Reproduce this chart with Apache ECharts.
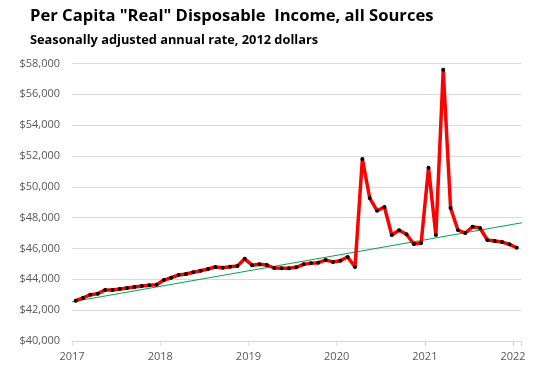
<!DOCTYPE html>
<html><head><meta charset="utf-8">
<script src="https://cdn.jsdelivr.net/npm/echarts@6/dist/echarts.min.js"></script>
<style>html,body{margin:0;padding:0;background:#fff}#c{width:545px;height:374px}</style>
</head><body><div id="c"></div>
<script>
const startYear = 2017;
const values2017 = [42613, 42789, 43004, 43069, 43307, 43307, 43372, 43437, 43502, 43567, 43610, 43651];
const values2018 = [43950, 44105, 44280, 44345, 44455, 44560, 44670, 44800, 44755, 44820, 44865, 45330];
const values2019 = [44920, 44974, 44930, 44735, 44715, 44715, 44780, 44975, 45040, 45080, 45250, 45130];
const values2020 = [45210, 45448, 44800, 51800, 49274, 48450, 48690, 46874, 47180, 46920, 46290, 46360];
const values2021 = [51230, 46874, 57595, 48625, 47200, 47004, 47412, 47330, 46550, 46485, 46420, 46270];
const values2022 = [46050];
const trendX = [2017.0, 2022.21];
const trendY = [42540, 47780];
const yearTicks = [2017, 2018, 2019, 2020, 2021, 2022];

const allValues = [].concat(values2017, values2018, values2019, values2020, values2021, values2022);
const incomeData = allValues.map((v, i) => [startYear + (i + 0.5) / 12, v]);
const trendData = trendX.map((x, i) => [x, trendY[i]]);

const chart = echarts.init(document.getElementById('c'), null, {renderer: 'canvas'});
chart.setOption({
  animation: false,
  backgroundColor: '#fff',
  title: [
    {text: 'Per Capita "Real" Disposable  Income, all Sources', left: 30, top: 8, padding: 0,
     textStyle: {fontFamily: 'Open Sans', fontWeight: 'bold', fontSize: 16.6, color: '#000'}},
    {text: 'Seasonally adjusted annual rate, 2012 dollars', left: 30, top: 34, padding: 0,
     textStyle: {fontFamily: 'Open Sans', fontWeight: 'bold', fontSize: 12.8, color: '#000'}}
  ],
  grid: {left: 72, right: 24, top: 63.5, bottom: 33, containLabel: false},
  xAxis: {
    type: 'value', min: 2017, max: 2022.09, interval: 1,
    axisLine: {show: true, lineStyle: {color: '#d9d9d9'}},
    axisTick: {show: true, length: 5, lineStyle: {color: '#d9d9d9'}},
    splitLine: {show: false},
    axisLabel: {color: '#595959', fontFamily: 'Open Sans', fontSize: 11, margin: 10,
      formatter: v => (yearTicks.indexOf(Math.round(v)) >= 0 && Math.abs(v - Math.round(v)) < 1e-6) ? String(Math.round(v)) : ''}
  },
  yAxis: {
    type: 'value', min: 40000, max: 58000, interval: 2000,
    axisLine: {show: false}, axisTick: {show: false},
    splitLine: {lineStyle: {color: '#d9d9d9', width: 1}},
    axisLabel: {color: '#595959', fontFamily: 'Open Sans', fontSize: 11, margin: 12,
      formatter: v => '$' + v.toLocaleString('en-US')}
  },
  series: [
    {type: 'line', data: trendData, symbol: 'none', clip: false, z: 1,
     lineStyle: {color: '#00A550', width: 1}},
    {type: 'line', data: incomeData, symbol: 'circle', symbolSize: 4, z: 3,
     itemStyle: {color: '#000'}, lineStyle: {color: '#FF0000', width: 3.5}}
  ]
});
</script></body></html>
